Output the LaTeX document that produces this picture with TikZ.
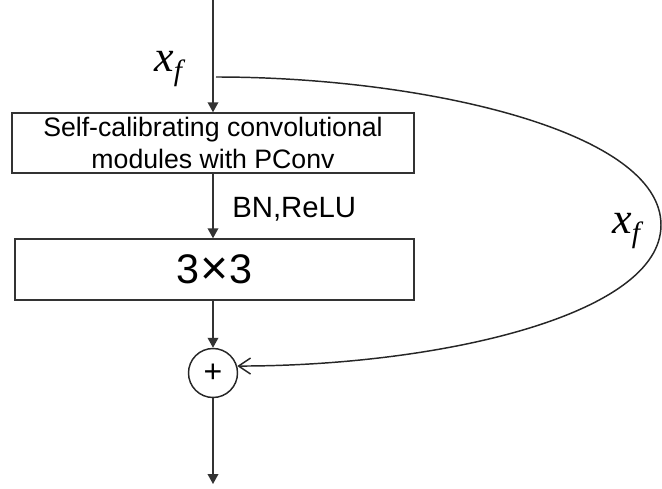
\documentclass[tikz,border=0pt]{standalone}
\usepackage{fontspec}
\setmainfont{Liberation Sans}
\newfontfamily\xffont{Liberation Serif}
\usetikzlibrary{arrows.meta}
\newcommand{\xfsym}{{\xffont\itshape x\raisebox{-0.22em}{\fontsize{22}{24}\selectfont f}}}
\tikzset{
  >={Triangle[length=7.5pt,width=8pt]},
  % bloecke
  blk/.style={draw=black!80,line width=1.1pt,minimum height=45pt,inner sep=0pt,
              align=center},
  sumnode/.style={circle,draw=black!85,line width=1.1pt,minimum size=36.75pt,
                  inner sep=0pt,font=\fontsize{24}{26}\selectfont},
  % pfeile
  flow/.style={->,draw=black!80,line width=1.1pt},
  skipline/.style={-{Straight Barb[length=9pt,width=12pt]},draw=black!85,
                   line width=1.1pt},
  lbl/.style={font=\fontsize{33}{35}\selectfont,inner sep=0pt},
}

\begin{document}
\begin{tikzpicture}[x=0.75pt,y=-0.75pt]
  \useasboundingbox (0,0) rectangle (662,489);
  \coordinate (in) at (213,0);
  \coordinate (out) at (213,484);
  \node[blk,minimum width=301.5pt,font=\fontsize{20}{24}\selectfont] (scc) at (213,143)
    {Self-calibrating convolutional\\modules with PConv};
  \node[blk,minimum width=299pt,minimum height=45.75pt,font=\fontsize{31}{33}\selectfont]
    (conv) at (214.5,269.5)
    {3\hspace{0.03em}\raisebox{-0.04em}{\fontsize{36}{36}\selectfont ×}\hspace{0.03em}3};
  \node[sumnode] (sum) at (213,373) {+};
  % labels
  \node[lbl,anchor=base west] (xin) at (154,71) {\xfsym};
  \node[lbl,anchor=base west] (xskip) at (612,233) {\xfsym};
  \node[font=\fontsize{22}{24}\selectfont,inner sep=0pt,anchor=base west] (act) at (232,217) {BN,ReLU};
  % pfeile
  \draw[flow] (in) -- (scc);
  \draw[flow] (scc) -- (scc.south |- conv.north);
  \draw[flow] (conv.south -| sum) -- (sum);
  \draw[flow] (sum) -- (out);
  \draw[skipline] (216,77) .. controls (420,77) and (661,130) .. (661,225)
    .. controls (661,315) and (440,366) .. (sum.16);
\end{tikzpicture}
\end{document}
